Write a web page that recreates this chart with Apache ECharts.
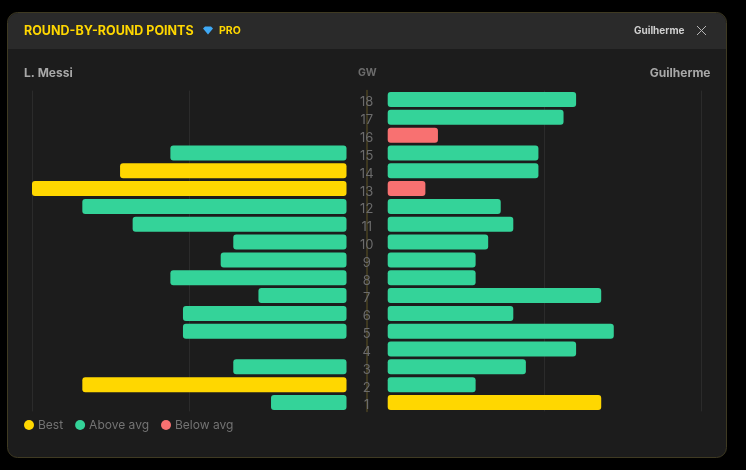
<!DOCTYPE html>
<html><head><meta charset="utf-8">
<style>html,body{margin:0;padding:0;background:#000;overflow:hidden}#c{width:746px;height:470px}</style>
<script src="https://cdn.jsdelivr.net/npm/echarts@6/dist/echarts.min.js"></script>
</head><body><div id="c"></div>
<script>
const gameweeks = [1,2,3,4,5,6,7,8,9,10,11,12,13,14,15,16,17,18];
const messiPoints = [6,21,9,0,13,13,7,14,10,9,17,21,25,18,14,0,0,0];
const guilhermePoints = [17,7,11,15,18,10,17,7,7,8,10,9,3,12,12,4,14,15];
const messiBest = [2,13,14];
const messiBelow = [];
const guilhermeBest = [1];
const guilhermeBelow = [13,16];
const tiers = ['Best','Above avg','Below avg'];
const tierColors = ['#FFD700','#34D399','#F87171'];
const FONT = 'Inter, "Noto Sans", sans-serif';

function tierOf(gw, best, below){ return best.includes(gw) ? 0 : below.includes(gw) ? 2 : 1; }
function tierSeries(points, best, below, axisIndex){
  return tiers.map((name,t)=>({
    name, type:'bar', stack:'s'+axisIndex, xAxisIndex:axisIndex, yAxisIndex:axisIndex,
    barWidth:15, z:3,
    itemStyle:{color:tierColors[t], borderRadius:3},
    data:points.map((v,i)=> (v>0 && tierOf(gameweeks[i],best,below)===t) ? v : null)
  }));
}
const gridTop=90.6, gridH=320.8, labelDrop=3;
const valueAxis=(i,inverse)=>({
  type:'value', gridIndex:i, min:0, max:25, interval:12.5, inverse,
  axisLabel:{show:false}, axisLine:{show:false}, axisTick:{show:false},
  splitLine:{show:true, showMinLine:false, lineStyle:{color:'#2b2b2b',width:1}}
});
const hiddenX=i=>({type:'value',gridIndex:i,show:false,min:0,max:1});
const catAxis=(i,extra)=>Object.assign({
  type:'category', gridIndex:i, data:gameweeks.map(String),
  axisLine:{show:false}, axisTick:{show:false}, axisLabel:{show:false}
},extra||{});

const chart=echarts.init(document.getElementById('c'),null,{renderer:'canvas'});
chart.setOption({
  animation:false,
  backgroundColor:'#000',
  textStyle:{fontFamily:FONT},
  grid:[
    {left:32,width:314.5,top:gridTop,height:gridH},
    {left:387.7,width:314,top:gridTop,height:gridH},
    {left:366.7,width:1,top:gridTop,height:gridH},
    {left:366.7,width:1,top:gridTop+labelDrop,height:gridH}
  ],
  xAxis:[valueAxis(0,true),valueAxis(1,false),hiddenX(2),hiddenX(3)],
  yAxis:[catAxis(0),catAxis(1),
    catAxis(2,{axisLine:{show:true,lineStyle:{color:'#4a4222',width:1.5}}}),
    catAxis(3,{axisLabel:{show:true,interval:0,color:'#6c6c6c',fontSize:13,fontFamily:FONT,align:'center',margin:0}})
  ],
  legend:{
    left:24, top:419, padding:0, icon:'circle', itemWidth:10, itemHeight:10, itemGap:12,
    data:tiers, selectedMode:false,
    textStyle:{color:'#737373',fontSize:12,fontFamily:FONT,padding:[0,0,0,-1]}
  },
  series:[...tierSeries(messiPoints,messiBest,messiBelow,0),
          ...tierSeries(guilhermePoints,guilhermeBest,guilhermeBelow,1)],
  graphic:[
    {type:'rect',z:-10,shape:{x:7.5,y:12.5,width:719,height:445,r:10},style:{fill:'#1c1c1c',stroke:'#3f3a22',lineWidth:1}},
    {type:'rect',z:-9,shape:{x:8,y:13,width:718,height:36,r:[10,10,0,0]},style:{fill:'#2a2a2a'}},
    {type:'text',z:5,x:24,y:31,style:{text:'ROUND-BY-ROUND POINTS',fill:'#FFD700',font:'700 12.5px '+FONT,textVerticalAlign:'middle'}},
    {type:'polygon',z:5,shape:{points:[[203,28.5],[205,26.5],[211,26.5],[213,28.5],[208,34.5]]},style:{fill:'#3FA9F5'}},
    {type:'text',z:5,x:219,y:31,style:{text:'PRO',fill:'#FFD700',font:'700 10.5px '+FONT,textVerticalAlign:'middle'}},
    {type:'text',z:5,x:684.5,y:31,style:{text:'Guilherme',fill:'#cfcfcf',font:'700 10px '+FONT,textAlign:'right',textVerticalAlign:'middle'}},
    {type:'line',z:5,shape:{x1:697,y1:26,x2:706,y2:35},style:{stroke:'#b5b5b5',lineWidth:1}},
    {type:'line',z:5,shape:{x1:706,y1:26,x2:697,y2:35},style:{stroke:'#b5b5b5',lineWidth:1}},
    {type:'text',z:5,x:24,y:73,style:{text:'L. Messi',fill:'#a8a8a8',font:'700 12px '+FONT,textVerticalAlign:'middle'}},
    {type:'text',z:5,x:710.5,y:73,style:{text:'Guilherme',fill:'#a8a8a8',font:'700 12px '+FONT,textAlign:'right',textVerticalAlign:'middle'}},
    {type:'text',z:5,x:367.3,y:72.5,style:{text:'GW',fill:'#6c6c6c',font:'700 10.5px '+FONT,textAlign:'center',textVerticalAlign:'middle'}}
  ]
});
</script></body></html>
